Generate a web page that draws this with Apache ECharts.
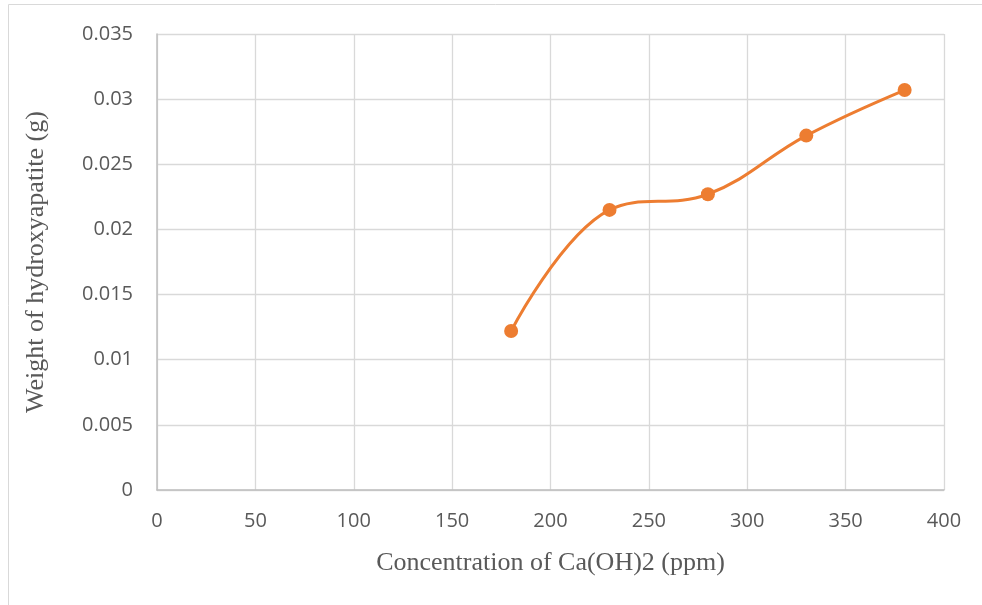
<!DOCTYPE html>
<html><head><meta charset="utf-8">
<script src="https://cdn.jsdelivr.net/npm/echarts@6/dist/echarts.min.js"></script>
<style>html,body{margin:0;padding:0;background:#fff}#c{width:982px;height:605px}</style>
</head><body><div id="c"></div>
<script>
var concentrations = [180, 230, 280, 330, 380];
var weights = [0.0122, 0.0215, 0.0227, 0.0272, 0.0307];
var xTitle = 'Concentration of Ca(OH)2 (ppm)';
var yTitle = 'Weight of hydroxyapatite (g)';

var chart = echarts.init(document.getElementById('c'));
chart.setOption({
  animation: false,
  graphic: [{type:'rect', shape:{x:8.5,y:4.5,width:1000,height:700}, style:{fill:'none',stroke:'#d9d9d9',lineWidth:1}, silent:true}],
  grid: {left:157, right:38, top:34, bottom:115},
  xAxis: {
    type:'value', min:0, max:400, interval:50,
    name: xTitle, nameLocation:'middle', nameGap:60,
    nameTextStyle:{fontFamily:'Liberation Serif', fontSize:26, color:'#595959'},
    axisLine:{show:true, lineStyle:{color:'#bfbfbf', width:1.5}},
    axisTick:{show:false},
    axisLabel:{fontFamily:'Open Sans', fontSize:20, color:'#595959', margin:21},
    splitLine:{show:true, lineStyle:{color:'#d9d9d9', width:1.3}}
  },
  yAxis: {
    type:'value', min:0, max:0.035, interval:0.005,
    name: yTitle, nameLocation:'middle', nameGap:108, nameRotate:90,
    nameTextStyle:{fontFamily:'Liberation Serif', fontSize:26, color:'#595959'},
    axisLine:{show:true, lineStyle:{color:'#bfbfbf', width:1.5}},
    axisTick:{show:false},
    axisLabel:{fontFamily:'Open Sans', fontSize:20, color:'#595959', margin:24},
    splitLine:{show:true, lineStyle:{color:'#d9d9d9', width:1.3}}
  },
  series: [{
    type:'line', smooth:0.4,
    data: concentrations.map(function(c,i){return [c, weights[i]];}),
    symbol:'circle', symbolSize:14,
    lineStyle:{color:'#ED7D31', width:3},
    itemStyle:{color:'#ED7D31'}
  }]
});
</script></body></html>
